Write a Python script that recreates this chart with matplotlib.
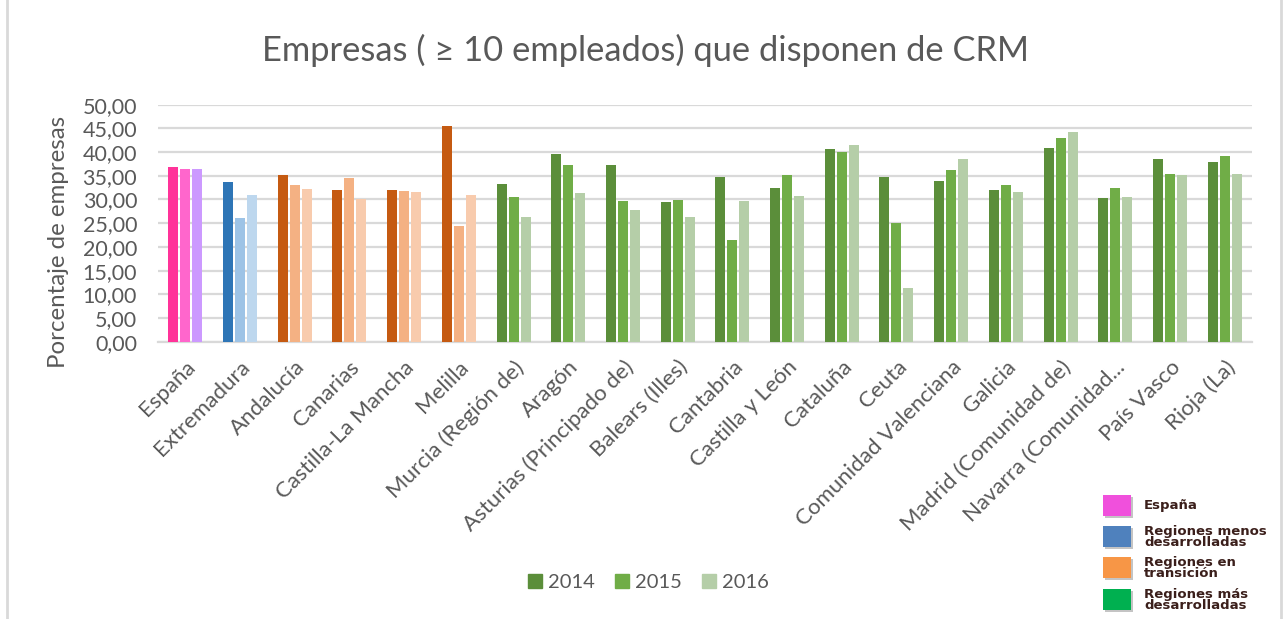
import matplotlib
matplotlib.use("Agg")
import matplotlib.pyplot as plt
from matplotlib.patches import Rectangle
from matplotlib.lines import Line2D
import numpy as np

plt.rcParams['font.family'] = ['Lato', 'DejaVu Sans']

categories = ["España", "Extremadura", "Andalucía", "Canarias", "Castilla-La Mancha",
              "Melilla", "Murcia (Región de)", "Aragón", "Asturias (Principado de)",
              "Balears (Illes)", "Cantabria", "Castilla y León", "Cataluña", "Ceuta",
              "Comunidad Valenciana", "Galicia", "Madrid (Comunidad de)",
              "Navarra (Comunidad...", "País Vasco", "Rioja (La)"]
years = ["2014", "2015", "2016"]
v2014 = [36.8, 33.6, 35.1, 31.9, 31.9, 45.5, 33.2, 39.6, 37.2, 29.4, 34.7, 32.4,
         40.6, 34.7, 33.9, 31.9, 40.8, 30.3, 38.5, 37.9]
v2015 = [36.4, 26.0, 33.0, 34.5, 31.7, 24.5, 30.5, 37.2, 29.6, 29.8, 21.4, 35.1,
         40.0, 25.0, 36.2, 33.0, 42.9, 32.4, 35.3, 39.1]
v2016 = [36.4, 30.9, 32.2, 30.0, 31.5, 30.9, 26.4, 31.3, 27.7, 26.4, 29.6, 30.7,
         41.5, 11.4, 38.5, 31.5, 44.2, 30.5, 35.1, 35.3]
groups = ["esp", "menos", "trans", "trans", "trans", "trans"] + ["mas"] * 14
yticks = [0, 5, 10, 15, 20, 25, 30, 35, 40, 45, 50]
region_legend = ["España", "Regiones menos\ndesarrolladas", "Regiones en\ntransición",
                 "Regiones más\ndesarrolladas"]

palette = {
    "esp": ["#FF3399", "#FF66CC", "#CC99FF"],
    "menos": ["#2E75B6", "#9DC3E6", "#BDD7EE"],
    "trans": ["#C55A11", "#F4B183", "#F8CBAD"],
    "mas": ["#5B8E3A", "#70AD47", "#B5CEA8"],
}
region_colors = ["#F050DC", "#4F81BD", "#F79646", "#00B050"]
txt = "#595959"

W, H = 1284, 619
fig = plt.figure(figsize=(W / 100, H / 100), dpi=100)
ax = fig.add_axes([158 / W, 1 - 341.7 / H, (1252 - 158) / W, (341.7 - 104.7) / H])

x = np.arange(len(categories))
step = 0.22
width = 0.183
series = [v2014, v2015, v2016]
for k, vals in enumerate(series):
    cols = [palette[g][k] for g in groups]
    ax.bar(x + (k - 1) * step, vals, width=width, color=cols, zorder=3)

ax.set_xlim(-0.5, len(categories) - 0.5)
ax.set_ylim(0, 50)
ax.set_yticks(yticks)
ax.set_yticklabels([f"{t:.2f}".replace(".", ",") for t in yticks], fontsize=15.5, color=txt)
ax.yaxis.grid(True, color="#D9D9D9", linewidth=1.6, zorder=0)
ax.set_axisbelow(True)
for s in ["top", "right", "left"]:
    ax.spines[s].set_visible(False)
ax.spines["bottom"].set_color("#D9D9D9")
ax.spines["bottom"].set_linewidth(1.6)
ax.tick_params(axis="y", length=0, pad=15)
ax.tick_params(axis="x", length=0, pad=11)
ax.set_xticks(x)
ax.set_xticklabels(categories, rotation=45, ha="right", rotation_mode="anchor",
                   fontsize=16, color=txt)
ax.set_ylabel("Porcentaje de empresas", fontsize=17.3, color=txt)
ax.yaxis.set_label_coords((69 - 158) / (1252 - 158), (341.7 - 242) / (341.7 - 104.7))

fig.text(645 / W, 1 - 50 / H, "Empresas ( ≥ 10 empleados) que disponen de CRM",
         ha="center", va="center", fontsize=24.8, color=txt)

# year legend
handles = [Rectangle((0, 0), 1, 1, color=palette["mas"][k]) for k in range(3)]
fig.legend(handles, years, loc="center", bbox_to_anchor=(648.5 / W, 1 - 582.5 / H), ncol=3,
           frameon=False, fontsize=14.5, labelcolor=txt, handlelength=0.7, handleheight=0.7,
           handletextpad=0.3, columnspacing=1.0)

# outer frame lines
fig.add_artist(Line2D([7 / W, 7 / W], [0, 1], color="#D9D9D9", lw=2))
fig.add_artist(Line2D([1281 / W, 1281 / W], [0, 1], color="#D9D9D9", lw=2))

# region legend (bottom right)
sq_top = [495, 526, 557, 589]
for yy, c, lab in zip(sq_top, region_colors, region_legend):
    fig.add_artist(Rectangle((1105 / W, 1 - (yy + 23) / H), 28 / W, 21 / H,
                             facecolor="#8A8A8A", edgecolor="none", alpha=0.5))
    fig.add_artist(Rectangle((1103 / W, 1 - (yy + 21) / H), 28 / W, 21 / H,
                             facecolor=c, edgecolor="none"))
    fig.text(1144 / W, 1 - (yy + 11) / H, lab, ha="left", va="center", fontsize=9.5,
             fontweight="bold", color="#3B1F1B", linespacing=0.72,
             family=["DejaVu Sans"])

fig.savefig("out.png", dpi=100)
